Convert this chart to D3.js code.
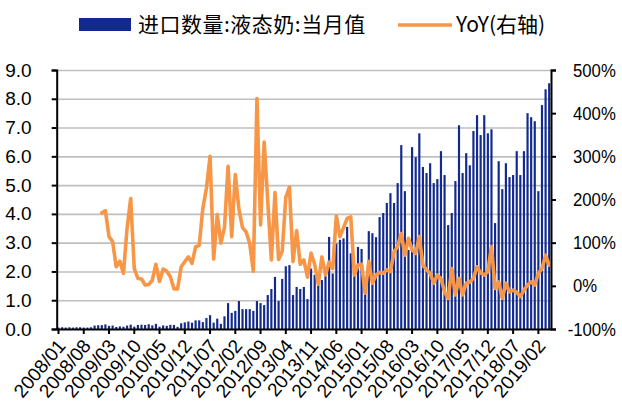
<!DOCTYPE html>
<html>
<head>
<meta charset="utf-8">
<script src="https://cdn.jsdelivr.net/npm/d3@7"></script>
<style>
  html, body { margin: 0; padding: 0; background: #fff; }
  svg { display: block; }
  .num { font-family: "Liberation Sans Narrow", "Arial Narrow", "Liberation Sans", Arial, sans-serif; font-size: 19px; fill: #000; }
  .cjk { font-family: "Noto Sans CJK SC", sans-serif; font-size: 21px; fill: #000; }
</style>
</head>
<body>
<svg id="chart" width="622" height="403"></svg>
<script>
// 进口数量:液态奶:当月值 (万吨), 每年一组
const imports2008 = [0.05, 0.06, 0.05, 0.06, 0.05, 0.06, 0.06, 0.05, 0.05, 0.06, 0.12, 0.13];
const imports2009 = [0.135, 0.16, 0.11, 0.12, 0.07, 0.09, 0.08, 0.12, 0.15, 0.08, 0.14, 0.15];
const imports2010 = [0.14, 0.165, 0.125, 0.18, 0.08, 0.125, 0.11, 0.145, 0.14, 0.075, 0.2, 0.23];
const imports2011 = [0.26, 0.22, 0.3, 0.3, 0.24, 0.38, 0.48, 0.22, 0.36, 0.18, 0.44, 0.9];
const imports2012 = [0.56, 0.63, 0.97, 0.69, 0.69, 0.69, 0.63, 0.97, 0.9, 0.83, 1.18, 1.39];
const imports2013 = [1.81, 0.97, 1.74, 2.18, 2.22, 1.18, 1.46, 1.39, 1.46, 1.04, 2.1, 1.88];
const imports2014 = [1.53, 1.7, 1.88, 3.2, 1.93, 2.97, 3.1, 3.15, 3.55, 2.63, 2.22, 2.85];
const imports2015 = [2.78, 1.27, 3.4, 3.33, 3.19, 3.89, 4.03, 4.38, 4.72, 4.38, 5.07, 6.39];
const imports2016 = [4.79, 2.75, 6.32, 5.97, 6.8, 5.63, 5.42, 5.76, 5.07, 5.21, 6.18, 5.35];
const imports2017 = [3.61, 4.03, 5.14, 7.08, 5.42, 6.11, 5.69, 6.88, 7.43, 6.74, 7.43, 6.8];
const imports2018 = [6.94, 3.68, 5.83, 4.86, 5.76, 5.28, 5.35, 6.18, 5.35, 6.18, 7.5, 7.36];
const imports2019 = [7.22, 4.79, 7.78, 8.33, 8.54];

// YoY (%), 2008 没有同比
const yoy2008 = [null, null, null, null, null, null, null, null, null, null, null, null];
const yoy2009 = [169, 174, 114, 102, 44, 57, 29, 133, 202, 40, 17, 16];
const yoy2010 = [2, 3, 13, 50, 10, 39, 34, 21, -7, -7, 44, 56];
const yoy2011 = [67, 52, 90, 94, 179, 226, 300, 62, 165, 99, 135, 277];
const yoy2012 = [114, 258, 178, 135, 125, 98, 34, 434, 141, 333, 195, 60];
const yoy2013 = [216, 61, 80, 205, 229, 56, 128, 50, 60, 20, 76, 50];
const yoy2014 = [4, 67, 25, 55, 40, 162, 114, 135, 156, 160, 25, 48];
const yoy2015 = [50, -17, 57, 6, 25, 31, 29, 37, 33, 79, 91, 121];
const yoy2016 = [71, 110, 83, 75, 114, 48, 37, 29, 6, 25, 17, -14];
const yoy2017 = [-29, 40, -21, 17, -21, 6, 9, 17, 44, 30, 25, 33];
const yoy2018 = [91, -6, 9, -29, 6, -14, -10, -15, -25, -10, 2, 9];
const yoy2019 = [2, 29, 40, 71, 48];

const leftTicks = [0, 1, 2, 3, 4, 5, 6, 7, 8, 9];
const rightTicks = [-100, 0, 100, 200, 300, 400, 500];
const xTickLabels = ["2008/01", "2008/08", "2009/03", "2009/10", "2010/05", "2010/12", "2011/07",
  "2012/02", "2012/09", "2013/04", "2013/11", "2014/06", "2015/01", "2015/08", "2016/03",
  "2016/10", "2017/05", "2017/12", "2018/07", "2019/02"];

const imports = [].concat(imports2008, imports2009, imports2010, imports2011, imports2012, imports2013,
  imports2014, imports2015, imports2016, imports2017, imports2018, imports2019);
const yoy = [].concat(yoy2008, yoy2009, yoy2010, yoy2011, yoy2012, yoy2013,
  yoy2014, yoy2015, yoy2016, yoy2017, yoy2018, yoy2019);

// 月份类目 2008/01 起
const fmtMonth = d3.timeFormat("%Y/%m");
const months = d3.timeMonth.range(new Date(2008, 0, 1), new Date(2008, imports.length, 1)).map(fmtMonth);
const data = months.map((m, i) => ({ month: m, value: imports[i], yoy: yoy[i] }));

const BLUE = "#122a8e";
const ORANGE = "#f79646";
const plot = { left: 56.7, right: 551, top: 70, bottom: 329 };

const svg = d3.select("#chart");

const x = d3.scaleBand().domain(months).range([plot.left, plot.right]).paddingInner(0.4).paddingOuter(0.2);
const yL = d3.scaleLinear().domain([0, 9]).range([plot.bottom, plot.top]);
const yR = d3.scaleLinear().domain([-100, 500]).range([plot.bottom, plot.top]);

// 网格线
svg.append("g")
    .attr("transform", `translate(${plot.left},0)`)
    .call(d3.axisLeft(yL).tickValues(leftTicks.slice(1)).tickSize(-(plot.right - plot.left)).tickFormat(""))
    .call(g => g.select(".domain").remove())
    .call(g => g.selectAll("line").attr("stroke", "#bfbfbf").attr("stroke-width", 1.6));

// 柱
svg.append("g")
    .selectAll("rect")
    .data(data.filter(d => d.value != null))
    .enter()
    .append("rect")
    .attr("x", d => x(d.month))
    .attr("width", x.bandwidth())
    .attr("y", d => yL(d.value))
    .attr("height", d => yL(0) - yL(d.value))
    .attr("fill", BLUE);

// 同比线
const line = d3.line()
    .defined(d => d.yoy != null)
    .x(d => x(d.month) + x.bandwidth() / 2)
    .y(d => yR(d.yoy));

svg.append("path")
    .datum(data)
    .attr("d", line)
    .attr("fill", "none")
    .attr("stroke", ORANGE)
    .attr("stroke-width", 3.6)
    .attr("stroke-linejoin", "round")
    .attr("stroke-linecap", "round");

// 左轴
svg.append("g")
    .attr("transform", `translate(${plot.left},0)`)
    .call(d3.axisLeft(yL).tickValues(leftTicks).tickSize(5).tickPadding(20).tickFormat(d3.format(".1f")))
    .call(g => g.attr("font-family", null).attr("font-size", null))
    .call(g => g.selectAll("text").attr("class", "num"))
    .call(g => g.selectAll("line, .domain").attr("stroke", "#000").attr("stroke-width", 2));

// 右轴 (字稍窄, 和原图一样)
svg.append("g")
    .attr("transform", `translate(${plot.right},0)`)
    .call(d3.axisRight(yR).tickValues(rightTicks).tickSize(5).tickPadding(17).tickFormat(d => d + "%"))
    .call(g => g.attr("font-family", null).attr("font-size", null))
    .call(g => g.selectAll("line, .domain").attr("stroke", "#000").attr("stroke-width", 2))
    .call(g => g.selectAll("text").attr("class", "num").each(function () {
        const t = d3.select(this);
        const w = this.getComputedTextLength() * 0.88;
        t.attr("textLength", w).attr("lengthAdjust", "spacingAndGlyphs");
        const x0 = +t.attr("x");
        // 超出右边就往左挪
        if (plot.right + x0 + w > 616) t.attr("x", 616 - plot.right - w);
    }));

// 底轴
svg.append("g")
    .attr("transform", `translate(0,${plot.bottom})`)
    .call(d3.axisBottom(x).tickValues(xTickLabels).tickSize(5).tickSizeOuter(0))
    .call(g => g.attr("font-family", null).attr("font-size", null))
    .call(g => g.selectAll("line, .domain").attr("stroke", "#000").attr("stroke-width", 2))
    .call(g => g.selectAll("text")
        .attr("class", "num")
        .attr("x", 0).attr("y", 0).attr("dy", "0.35em")
        .attr("text-anchor", "end")
        .attr("transform", "translate(3,13) rotate(-50)"));

// 图例
const legend = svg.append("g");
legend.append("rect").attr("x", 79).attr("y", 18).attr("width", 52).attr("height", 13).attr("fill", BLUE);
legend.append("text").attr("class", "cjk").attr("x", 138).attr("y", 32)
    .attr("letter-spacing", 0.5).text("进口数量:液态奶:当月值");
legend.append("line").attr("x1", 398).attr("x2", 452).attr("y1", 25).attr("y2", 25)
    .attr("stroke", ORANGE).attr("stroke-width", 3.6);
legend.append("text").attr("class", "cjk").attr("x", 456).attr("y", 32).text("YoY(右轴)");
</script>
</body>
</html>
